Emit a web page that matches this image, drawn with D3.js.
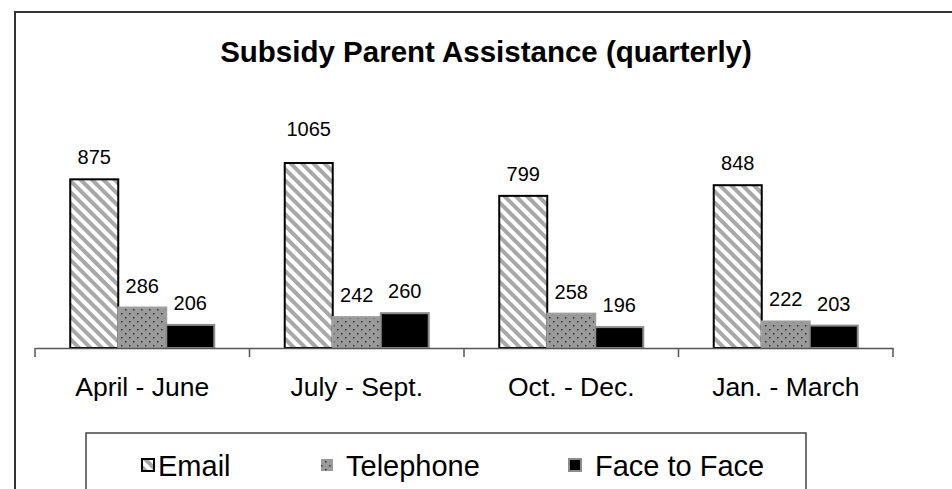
<!DOCTYPE html>
<html><head><meta charset="utf-8">
<script src="https://cdn.jsdelivr.net/npm/d3@7"></script>
<style>html,body{margin:0;padding:0;background:#fff;}svg{display:block;font-family:"Liberation Sans",Arial,sans-serif;}</style>
</head><body>
<script>
const title = "Subsidy Parent Assistance (quarterly)";
const categories = ["April - June", "July - Sept.", "Oct. - Dec.", "Jan. - March"];
const seriesNames = ["Email", "Telephone", "Face to Face"];
const email = [875, 1065, 799, 848];
const telephone = [286, 242, 258, 222];
const faceToFace = [206, 260, 196, 203];
const axisMin = 100, axisMax = 950;

const W = 952, H = 489;
const svg = d3.select("body").append("svg").attr("width", W).attr("height", H);
const defs = svg.append("defs");

const pStripe = defs.append("pattern").attr("id","stripe").attr("patternUnits","userSpaceOnUse")
  .attr("width",8).attr("height",8).attr("patternTransform","rotate(-45)");
pStripe.append("rect").attr("width",8).attr("height",8).attr("fill","#fff");
pStripe.append("rect").attr("width",4).attr("height",8).attr("fill","#a8a8a8");

const pDot = defs.append("pattern").attr("id","dots").attr("patternUnits","userSpaceOnUse")
  .attr("width",8).attr("height",8);
pDot.append("rect").attr("width",8).attr("height",8).attr("fill","#9a9a9a");
pDot.append("rect").attr("x",1).attr("y",1).attr("width",1.5).attr("height",1.5).attr("fill","#333");
pDot.append("rect").attr("x",5).attr("y",5).attr("width",1.5).attr("height",1.5).attr("fill","#333");

const series = [
  {name: seriesNames[0], values: email, fill: "url(#stripe)", stroke: "#000"},
  {name: seriesNames[1], values: telephone, fill: "url(#dots)", stroke: "#a0a0a0"},
  {name: seriesNames[2], values: faceToFace, fill: "#000", stroke: "#8c8c8c"}
];

// outer frame
svg.append("rect").attr("x",15).attr("y",12).attr("width",950).attr("height",500)
  .attr("fill","none").attr("stroke","#333").attr("stroke-width",2);

svg.append("text").attr("x",486).attr("y",62).attr("text-anchor","middle")
  .attr("font-size",29.5).attr("font-weight","bold").text(title);

const x0 = d3.scaleBand().domain(categories).range([35, 893]).paddingInner(0).paddingOuter(0);
const x1 = d3.scaleBand().domain(seriesNames).range([0, x0.bandwidth()]).paddingInner(0).paddingOuter(0.734);
const y = d3.scaleLinear().domain([axisMin, axisMax]).range([348, 163]);
const yTop = y.range()[1];

const g = svg.append("g");
categories.forEach((c, i) => {
  series.forEach(s => {
    const v = s.values[i];
    const clipped = v > axisMax;
    const yv = Math.max(y(v), yTop);
    g.append("rect").attr("x", x0(c) + x1(s.name)).attr("y", yv)
      .attr("width", x1.bandwidth()).attr("height", y(axisMin) - yv)
      .attr("fill", s.fill).attr("stroke", s.stroke).attr("stroke-width", 2);
    g.append("text").attr("x", x0(c) + x1(s.name) + x1.bandwidth()/2)
      .attr("y", clipped ? yTop - 27 : yv - 15)
      .attr("text-anchor","middle").attr("font-size",20).text(v);
  });
});

// category axis
const ax = svg.append("g").attr("transform","translate(0,348)")
  .call(d3.axisBottom(x0).tickSize(0).tickFormat(d=>d));
ax.select(".domain").attr("stroke","#555").attr("stroke-width",1.5);
ax.selectAll("text").attr("font-size",26.5).attr("fill","#000").attr("dy",0).attr("y",48);
const bounds = categories.map(c => x0(c)).concat([x0.range()[1]]);
svg.selectAll("line.tk").data(bounds).enter().append("line")
  .attr("x1",d=>d).attr("x2",d=>d).attr("y1",348).attr("y2",357)
  .attr("stroke","#555").attr("stroke-width",1.5);

// legend
svg.append("rect").attr("x",86).attr("y",433).attr("width",720).attr("height",80)
  .attr("fill","#fff").attr("stroke","#444").attr("stroke-width",1.5);
const swatchX = [142, 321, 569];
const labelX = [158, 346, 595];
series.forEach((s, i) => {
  svg.append("rect").attr("x", swatchX[i]).attr("y", 459).attr("width", 12).attr("height", 12)
    .attr("fill", s.fill).attr("stroke", i === 1 ? "none" : s.stroke).attr("stroke-width", 2);
  svg.append("text").attr("x", labelX[i]).attr("y", 476).attr("font-size", 29).text(s.name);
});
</script>
</body></html>
